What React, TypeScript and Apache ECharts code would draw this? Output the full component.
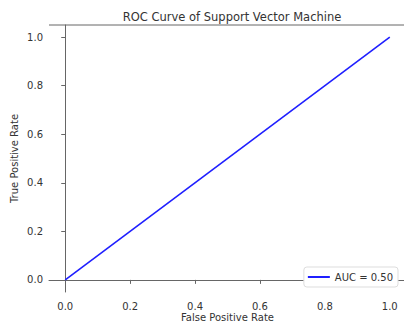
import React, { useEffect, useRef } from "react";
import * as echarts from "echarts";

const fpr = [0, 1];
const tpr = [0, 1];
const tickValues = [0, 0.2, 0.4, 0.6, 0.8, 1.0];
const titleText = "ROC Curve of Support Vector Machine";
const seriesName = "AUC = 0.50";

export default function App() {
  const ref = useRef<HTMLDivElement>(null);
  useEffect(() => {
    if (!ref.current) return;
    const chart = echarts.init(ref.current, null, { renderer: "svg" });
    const font = "DejaVu Sans";
    const axisCommon = (name: string, isY: boolean) => ({
      type: "value" as const,
      min: -0.05,
      max: 1.05,
      name,
      nameLocation: "middle" as const,
      nameGap: isY ? 30 : 20,
      nameMoveOverlap: false,
      nameTextStyle: { fontFamily: font, fontSize: 10, color: "#333" },
      axisLine: { show: true, lineStyle: { color: "#666", width: 1 } },
      axisTick: { show: true, length: 4, lineStyle: { color: "#666" }, customValues: tickValues },
      axisLabel: {
        fontFamily: font,
        fontSize: 10,
        color: "#333",
        margin: isY ? 6 : 9,
        customValues: tickValues,
        formatter: (v: number) => v.toFixed(1),
      },
      splitLine: { show: false },
    });
    chart.setOption({
      animation: false,
      backgroundColor: "#fff",
      title: {
        text: titleText,
        left: 227,
        textAlign: "center",
        top: 6,
        textStyle: { fontFamily: font, fontSize: 11.5, fontWeight: "normal", color: "#333" },
      },
      grid: { left: 49, top: 25, width: 357, height: 267, containLabel: false, outerBoundsMode: "none" },
      xAxis: { ...axisCommon("False Positive Rate", false) },
      yAxis: { ...axisCommon("True Positive Rate", true) },
      legend: {
        data: [seriesName],
        right: 6,
        bottom: 35,
        orient: "vertical",
        backgroundColor: "#fff",
        borderColor: "#ddd",
        borderWidth: 1,
        borderRadius: 3,
        padding: [5, 5, 5, 4],
        itemWidth: 22,
        itemHeight: 2,
        itemGap: 4,
        textStyle: { fontFamily: font, fontSize: 10, color: "#333" },
        icon: "rect",
      },
      series: [
        {
          name: seriesName,
          type: "line",
          data: fpr.map((x, i) => [x, tpr[i]]),
          showSymbol: false,
          lineStyle: { color: "#1f1fff", width: 1.6 },
          itemStyle: { color: "#1f1fff" },
        },
      ],
      graphic: [
        {
          type: "line",
          shape: { x1: 49, y1: 25, x2: 406, y2: 25 },
          style: { stroke: "#666", lineWidth: 1 },
        },
      ],
    });
    return () => chart.dispose();
  }, []);
  return (
    <div
      ref={ref}
      style={{ position: "fixed", left: 0, top: 0, width: 404, height: 322 }}
    />
  );
}
